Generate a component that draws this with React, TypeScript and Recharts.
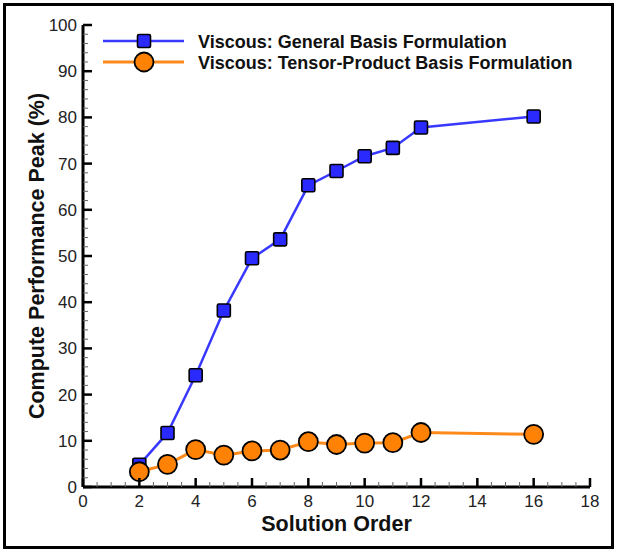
import React from 'react';
import { LineChart, Line, XAxis, YAxis, Legend, Label } from 'recharts';

// Solution order (polynomial degree) on the horizontal axis
const orders = [2, 3, 4, 5, 6, 7, 8, 9, 10, 11, 12, 16];
// Percent of compute peak reached by each formulation
const generalBasis = [4.8, 11.7, 24.2, 38.2, 49.5, 53.6, 65.3, 68.4, 71.6, 73.4, 77.8, 80.2];
const tensorProduct = [3.3, 4.9, 8.1, 6.9, 7.8, 8.0, 9.8, 9.2, 9.5, 9.6, 11.8, 11.4];

const seriesNames = [
  'Viscous: General Basis Formulation',
  'Viscous: Tensor-Product Basis Formulation',
];

// Labelled tick values and the spacing of the unlabelled minor ticks
const xMajorTicks = [0, 2, 4, 6, 8, 10, 12, 14, 16, 18];
const yMajorTicks = [0, 10, 20, 30, 40, 50, 60, 70, 80, 90, 100];
const xMinorStep = 0.5;
const yMinorStep = 2;

const buildTicks = (majors: number[], step: number) => {
  const out: number[] = [];
  const lo = majors[0];
  const hi = majors[majors.length - 1];
  for (let i = 0; lo + i * step <= hi + 1e-9; i++) out.push(+(lo + i * step).toFixed(3));
  return out;
};
const xTicks = buildTicks(xMajorTicks, xMinorStep);
const yTicks = buildTicks(yMajorTicks, yMinorStep);
const isMajor = (v: number, majors: number[]) => majors.some((m) => Math.abs(m - v) < 1e-6);

const data = orders.map((o, i) => ({
  order: o,
  general: generalBasis[i],
  tensor: tensorProduct[i],
}));

const FONT = '"Liberation Sans", Arial, Helvetica, sans-serif';
const BLUE_LINE = '#3838ff';
const BLUE_FILL = '#2a2aff';
const ORANGE_LINE = '#ff8a1c';
const ORANGE_FILL = '#ff8205';

const MAJOR_LEN = 9;
const MINOR_LEN = 5;

const tickText = {
  fontFamily: FONT,
  fontSize: 17,
  fill: '#222',
};

const BottomTick = (props: any) => {
  const { x, y, payload } = props;
  const major = isMajor(payload.value, xMajorTicks);
  return (
    <g>
      <line
        x1={x}
        x2={x}
        y1={y}
        y2={y - (major ? MAJOR_LEN : MINOR_LEN)}
        stroke={major ? '#000' : '#666'}
        strokeWidth={major ? 2.5 : 1}
      />
      {major && (
        <text x={x} y={y + 20} textAnchor="middle" {...tickText}>
          {payload.value}
        </text>
      )}
    </g>
  );
};

const TopTick = (props: any) => {
  const { x, y, payload } = props;
  const major = isMajor(payload.value, xMajorTicks);
  return (
    <line
      x1={x}
      x2={x}
      y1={y}
      y2={y + (major ? MAJOR_LEN : MINOR_LEN)}
      stroke={major ? '#000' : '#666'}
      strokeWidth={major ? 2.5 : 1}
    />
  );
};

const LeftTick = (props: any) => {
  const { x, y, payload } = props;
  const major = isMajor(payload.value, yMajorTicks);
  return (
    <g>
      <line
        x1={x}
        x2={x + (major ? MAJOR_LEN : MINOR_LEN)}
        y1={y}
        y2={y}
        stroke={major ? '#000' : '#666'}
        strokeWidth={major ? 2.5 : 1}
      />
      {major && (
        <text x={x - 6} y={y + 6} textAnchor="end" {...tickText}>
          {payload.value}
        </text>
      )}
    </g>
  );
};

const RightTick = (props: any) => {
  const { x, y, payload } = props;
  const major = isMajor(payload.value, yMajorTicks);
  return (
    <line
      x1={x}
      x2={x - (major ? MAJOR_LEN : MINOR_LEN)}
      y1={y}
      y2={y}
      stroke={major ? '#000' : '#666'}
      strokeWidth={major ? 2.5 : 1}
    />
  );
};

const SquareDot = (props: any) => {
  const { cx, cy, index } = props;
  if (cx == null || cy == null) return null;
  const s = 13;
  return (
    <rect
      key={`sq-${index}`}
      x={cx - s / 2}
      y={cy - s / 2}
      width={s}
      height={s}
      rx={1.5}
      fill={BLUE_FILL}
      stroke="#000"
      strokeWidth={1.6}
    />
  );
};

const XTitle = (props: any) => {
  const vb = props.viewBox || {};
  return (
    <text
      x={vb.x + vb.width / 2}
      y={vb.y + 44}
      textAnchor="middle"
      fontFamily={FONT}
      fontSize={21.5}
      fontWeight="bold"
      fill="#111"
    >
      Solution Order
    </text>
  );
};

const YTitle = (props: any) => {
  const vb = props.viewBox || {};
  const cx = vb.x + vb.width - 46;
  const cy = vb.y + vb.height / 2;
  return (
    <text
      x={cx}
      y={cy}
      transform={`rotate(-90, ${cx}, ${cy})`}
      textAnchor="middle"
      dominantBaseline="central"
      fontFamily={FONT}
      fontSize={21.5}
      fontWeight="bold"
      fill="#111"
    >
      Compute Performance Peak (%)
    </text>
  );
};

const LegendBox = (props: any) => {
  const payload = props.payload || [];
  const rowH = 21;
  return (
    <svg width={500} height={50} style={{ display: 'block' }}>
      {payload.map((p: any, i: number) => {
        const y = 11 + i * rowH;
        const general = i === 0;
        return (
          <g key={p.value}>
            <line x1={0} x2={81} y1={y} y2={y} stroke={p.color} strokeWidth={general ? 2.5 : 3} />
            {general ? (
              <rect x={41 - 6.5} y={y - 6.5} width={13} height={13} rx={1.5} fill={BLUE_FILL} stroke="#000" strokeWidth={1.6} />
            ) : (
              <circle cx={41} cy={y} r={9.5} fill={ORANGE_FILL} stroke="#000" strokeWidth={1.8} />
            )}
            <text x={95} y={y + 6.5} fontFamily={FONT} fontSize={18} fontWeight="bold" fill="#111">
              {p.value}
            </text>
          </g>
        );
      })}
    </svg>
  );
};

export default function App() {
  return (
    <div style={{ position: 'absolute', left: 0, top: 0, width: 617, height: 549, background: '#fff' }}>
      <LineChart
        width={617}
        height={549}
        data={data}
        margin={{ top: 25, right: 27, bottom: 0, left: 23 }}
      >
        <XAxis
          dataKey="order"
          type="number"
          domain={[0, 18]}
          ticks={xTicks}
          interval={0}
          allowDataOverflow
          height={62}
          tickSize={0}
          tickMargin={0}
          tickLine={false}
          axisLine={{ stroke: '#000', strokeWidth: 3 }}
          tick={<BottomTick />}
        >
          <Label content={<XTitle />} />
        </XAxis>
        <XAxis
          xAxisId="top"
          orientation="top"
          dataKey="order"
          type="number"
          domain={[0, 18]}
          ticks={xTicks}
          interval={0}
          allowDataOverflow
          height={0}
          tickSize={0}
          tickMargin={0}
          tickLine={false}
          axisLine={{ stroke: '#000', strokeWidth: 3 }}
          tick={<TopTick />}
        />
        <YAxis
          type="number"
          domain={[0, 100]}
          ticks={yTicks}
          interval={0}
          allowDataOverflow
          width={60}
          tickSize={0}
          tickMargin={0}
          tickLine={false}
          axisLine={{ stroke: '#000', strokeWidth: 3 }}
          tick={<LeftTick />}
        >
          <Label content={<YTitle />} />
        </YAxis>
        <YAxis
          yAxisId="right"
          orientation="right"
          type="number"
          domain={[0, 100]}
          ticks={yTicks}
          interval={0}
          allowDataOverflow
          width={0}
          tickSize={0}
          tickMargin={0}
          tickLine={false}
          axisLine={{ stroke: '#000', strokeWidth: 3 }}
          tick={<RightTick />}
        />
        <Legend
          layout="horizontal"
          verticalAlign="middle"
          align="center"
          content={<LegendBox />}
          wrapperStyle={{ position: 'absolute', left: 103, top: 30, width: 500, height: 50 }}
        />
        <Line
          name={seriesNames[0]}
          dataKey="general"
          stroke={BLUE_LINE}
          strokeWidth={2.5}
          dot={<SquareDot />}
          activeDot={false}
          isAnimationActive={false}
        />
        <Line
          name={seriesNames[1]}
          dataKey="tensor"
          stroke={ORANGE_LINE}
          strokeWidth={3}
          dot={{ r: 9.5, fill: ORANGE_FILL, stroke: '#000', strokeWidth: 1.8 }}
          activeDot={false}
          isAnimationActive={false}
        />
      </LineChart>
      <div
        style={{
          position: 'absolute',
          left: 3,
          top: 3,
          width: 611,
          height: 546,
          border: '3px solid #000',
          boxSizing: 'border-box',
          pointerEvents: 'none',
        }}
      />
    </div>
  );
}
